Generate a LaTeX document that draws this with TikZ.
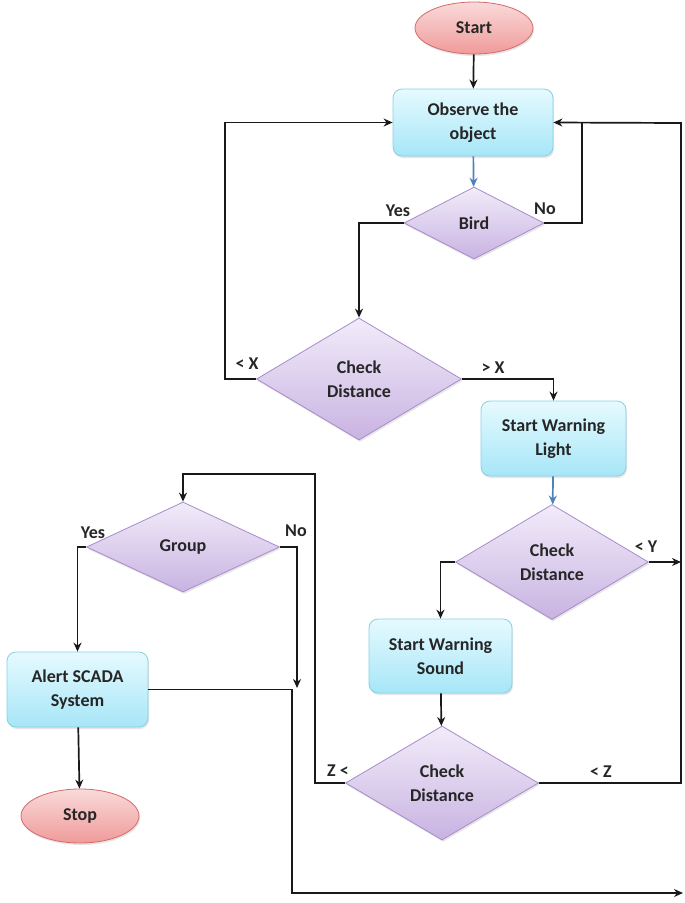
\documentclass[tikz,border=0pt]{standalone}
\usepackage{fontspec}
\setmainfont{Carlito}
\usetikzlibrary{shapes.geometric,arrows.meta,shadows}
\definecolor{txt}{HTML}{262626}
\definecolor{blueln}{HTML}{4F81BD}
\definecolor{termdraw}{HTML}{D46A6A}
\definecolor{termtop}{HTML}{FADADA}
\definecolor{termbot}{HTML}{F09A9A}
\definecolor{procdraw}{HTML}{8ACFE3}
\definecolor{proctop}{HTML}{E6FAFF}
\definecolor{procbot}{HTML}{A6E6F7}
\definecolor{decdraw}{HTML}{A88BCB}
\definecolor{dectop}{HTML}{F1ECF9}
\definecolor{decbot}{HTML}{C9B3E2}
\tikzset{
  base/.style={font=\fontsize{18}{24}\selectfont\bfseries, text=txt, align=center, inner sep=0pt, line width=0.8pt},
  term/.style={base, ellipse, draw=termdraw, top color=termtop, bottom color=termbot, minimum width=118pt, minimum height=52pt,
    drop shadow={opacity=0.2, shadow xshift=1pt, shadow yshift=-2pt}},
  proc/.style={base, rounded corners=9pt, draw=procdraw, top color=proctop, bottom color=procbot,
    drop shadow={opacity=0.2, shadow xshift=1pt, shadow yshift=-2pt}},
  dec/.style={base, diamond, draw=decdraw, top color=dectop, bottom color=decbot,
    drop shadow={opacity=0.2, shadow xshift=1pt, shadow yshift=-2pt}},
  lbl/.style={font=\fontsize{18}{20}\selectfont\bfseries, text=txt, inner sep=0pt},
  arr/.style={line width=1.7pt, draw=black!90, -{Stealth[length=9pt,width=8pt]}},
  ln/.style={line width=1.7pt, draw=black!90},
  barr/.style={line width=1.7pt, draw=blueln, -{Stealth[length=9pt,width=8pt]}},
}
\begin{document}
\begin{tikzpicture}[x=1pt,y=-1pt]
\useasboundingbox (0,0) rectangle (685,903);
% nodes
\node[term] (start) at (474,28) {Start};
\node[proc, minimum width=160pt, minimum height=67pt] (obs) at (473,122.5) {Observe the\\object};
\node[dec, minimum width=140pt, minimum height=72pt] (bird) at (474,223) {Bird};
\node[dec, minimum width=205pt, minimum height=122pt] (cd1) at (359,379) {Check\\Distance};
\node[proc, minimum width=145pt, minimum height=75pt] (light) at (553.5,438.5) {Start Warning\\Light};
\node[dec, minimum width=193pt, minimum height=115pt] (cd2) at (552,562) {Check\\Distance};
\node[proc, minimum width=143pt, minimum height=74pt] (sound) at (440.5,656) {Start Warning\\Sound};
\node[dec, minimum width=193pt, minimum height=114pt] (cd3) at (442,783) {Check\\Distance};
\node[dec, minimum width=193pt, minimum height=90pt] (group) at (183,547) {Group};
\node[proc, minimum width=141pt, minimum height=75pt] (alert) at (77.5,689.5) {Alert SCADA\\System};
\node[term, minimum height=54pt] (stop) at (80,816) {Stop};
% bend coordinates
\coordinate (rx) at (681,123);
\coordinate (nob) at (582,123);
\coordinate (ltx) at (225,379);
\coordinate (zl) at (315,474);
\coordinate (gtop) at (183,474);
\coordinate (gno) at (297,688);
\coordinate (ab) at (292,893);
\coordinate (abend) at (683,893);
% connectors
\draw[arr] (start) -- (obs);
\draw[barr] (obs) -- (bird);
\draw[ln] (bird.east) -| (nob);
\draw[arr] (bird.west) -| (cd1.north);
\draw[arr] (cd1.west) -| (ltx) |- (obs.west);
\draw[arr] (cd1.east) -| (light.north);
\draw[barr] (light) -- (cd2);
\draw[arr] (cd2.west) -| (sound.north);
\draw[arr] (cd2.east) -- (cd2.east -| rx);
\draw[arr] (cd3.east) -| (rx) -- (obs.east);
\draw[arr] (sound) -- (cd3);
\draw[arr] (cd3.west) -| (zl) -- (gtop) -- (group.north);
\draw[arr] (group.east) -| (gno);
\draw[arr] (group.west) -| (alert.north);
\draw[arr] (alert.east) -| (ab) -- (abend);
\draw[arr] (alert) -- (stop);
% labels
\node[lbl] (l1) at (398,211) {Yes};
\node[lbl] (l2) at (545,209) {No};
\node[lbl] (l3) at (247,364) {< X};
\node[lbl] (l4) at (493,368) {> X};
\node[lbl] (l5) at (646,547) {< Y};
\node[lbl] (l6) at (338,771) {Z <};
\node[lbl] (l7) at (601,772) {< Z};
\node[lbl] (l8) at (93,533) {Yes};
\node[lbl] (l9) at (296,531) {No};
\end{tikzpicture}
\end{document}
